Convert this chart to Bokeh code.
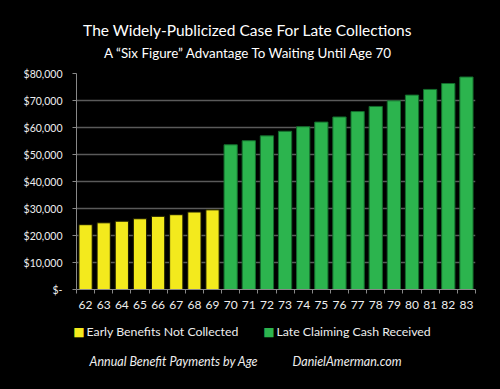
from bokeh.plotting import figure
from bokeh.models import Range1d, FixedTicker, Label
from bokeh.embed import file_html
from bokeh.resources import INLINE

title = "The Widely-Publicized Case For Late Collections"
subtitle = "A \u201cSix Figure\u201d Advantage To Waiting Until Age 70"
early_ages = [62, 63, 64, 65, 66, 67, 68, 69]
early_vals = [24000, 24700, 25300, 26200, 27100, 27700, 28700, 29500]
late_ages = [70, 71, 72, 73, 74, 75, 76, 77, 78, 79, 80, 81, 82, 83]
late_vals = [53600, 55100, 56900, 58600, 60300, 62000, 63900, 65900, 67800, 69900, 72000, 74100, 76300, 78700]
y_ticks = [0, 10000, 20000, 30000, 40000, 50000, 60000, 70000, 80000]
y_tick_labels = ["$-", "$10,000", "$20,000", "$30,000", "$40,000", "$50,000", "$60,000", "$70,000", "$80,000"]
legend_labels = ["Early Benefits Not Collected", "Late Claiming  Cash Received"]
footer_left = "Annual Benefit Payments by Age"
footer_right = "DanielAmerman.com"

FONT = "Lato"
YELLOW, GREEN = "#f3ea1d", "#2cb44e"
W, H = 500, 389
FL, FR, FT, FB = 76, 475, 73, 289   # frame edges in page pixels
X0, X1 = 61.5, 83.5
Y0, Y1 = 0, 80000


def dx(px):
    return X0 + (px - FL) * (X1 - X0) / (FR - FL)


def dy(py):
    return Y0 + (FB - py) * (Y1 - Y0) / (FB - FT)


p = figure(frame_width=FR - FL, frame_height=FB - FT, output_backend="svg", toolbar_location=None,
           x_range=Range1d(X0, X1), y_range=Range1d(Y0, Y1),
           min_border_left=FL, min_border_right=W - FR, min_border_top=FT, min_border_bottom=H - FB,
           background_fill_color="black", border_fill_color="black")
p.outline_line_color = None

p.vbar(x=early_ages, top=early_vals, width=0.73, fill_color=YELLOW, line_color="#1a1a00", line_width=1)
p.vbar(x=late_ages, top=late_vals, width=0.73, fill_color=GREEN, line_color="#146b2c", line_width=1)

all_ages = early_ages + late_ages
p.xaxis.ticker = FixedTicker(ticks=all_ages, minor_ticks=[a - 0.5 for a in all_ages] + [all_ages[-1] + 0.5])
p.xaxis.major_tick_out = 0
p.xaxis.major_tick_in = 0
p.xaxis.minor_tick_out = 4
p.xaxis.minor_tick_in = 0
p.xaxis.minor_tick_line_color = "#888888"
p.xaxis.axis_line_color = "#888888"
p.xaxis.major_label_text_color = "#eeeeee"
p.xaxis.major_label_text_font = FONT
p.xaxis.major_label_text_font_size = "12px"
p.xaxis.major_label_standoff = 7

p.yaxis.ticker = FixedTicker(ticks=y_ticks)
p.yaxis.major_label_overrides = {t: l for t, l in zip(y_ticks, y_tick_labels)}
p.yaxis.major_tick_out = 4
p.yaxis.major_tick_in = 0
p.yaxis.major_tick_line_color = "#888888"
p.yaxis.minor_tick_line_color = None
p.yaxis.axis_line_color = "#888888"
p.yaxis.major_label_text_color = "#eeeeee"
p.yaxis.major_label_text_font = FONT
p.yaxis.major_label_text_font_size = "10.5px"
p.yaxis.major_label_standoff = 10

p.xgrid.grid_line_color = None
p.ygrid.grid_line_color = "#5a5a5a"
p.ygrid.grid_line_width = 1.5

# legend keys and labels
for key_x, text_x, color, label in [(78.5, 86, YELLOW, legend_labels[0]), (268.5, 276, GREEN, legend_labels[1])]:
    p.add_layout(Label(x=dx(key_x), y=dy(331), text="\u25a0", text_align="center", text_baseline="middle",
                       text_color=color, text_font="DejaVu Sans", text_font_size="12px"), "below")
    p.add_layout(Label(x=dx(text_x), y=dy(331), text=label, text_align="left", text_baseline="middle",
                       text_color="#eeeeee", text_font=FONT, text_font_size="12.3px"), "below")

p.add_layout(Label(x=dx(247), y=dy(29), text=title, text_align="center", text_baseline="middle",
                   text_color="white", text_font=FONT, text_font_size="15.5px"), "above")
p.add_layout(Label(x=dx(248), y=dy(52), text=subtitle, text_align="center", text_baseline="middle",
                   text_color="white", text_font=FONT, text_font_size="13.4px"), "above")
p.add_layout(Label(x=dx(89), y=dy(361), text=footer_left, text_align="left", text_baseline="middle",
                   text_color="#eeeeee", text_font=FONT, text_font_size="12.5px", text_font_style="italic"), "below")
p.add_layout(Label(x=dx(292), y=dy(361), text=footer_right, text_align="left", text_baseline="middle",
                   text_color="#eeeeee", text_font=FONT, text_font_size="12.5px", text_font_style="italic"), "below")

html = file_html(p, INLINE)
html = html.replace("<head>", "<head><style>html,body{background:#000;}</style>", 1)
open("out.html", "w").write(html)
